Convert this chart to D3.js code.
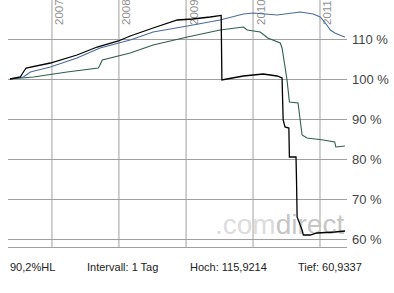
<!DOCTYPE html>
<html>
<head>
<meta charset="utf-8">
<script src="https://cdn.jsdelivr.net/npm/d3@7"></script>
<style>
  body { margin: 0; background: #fff; }
  svg { display: block; font-family: Arial, "Liberation Sans", sans-serif; }
</style>
</head>
<body>
<svg id="chart" width="394" height="293"></svg>
<script>
// series: [date, percent]
const blackSeries = [
  ["2006-05-20", 100], ["2006-07-15", 100.5], ["2006-08-01", 101.75], ["2006-08-16", 102.75],
  ["2006-12-26", 104], ["2007-05-20", 106], ["2007-09-07", 108], ["2008-01-01", 109.5],
  ["2008-03-05", 110.75], ["2008-07-08", 112.75], ["2008-11-17", 114.75], ["2009-02-08", 115],
  ["2009-05-15", 115.5], ["2009-07-14", 115.9], ["2009-07-18", 99.75], ["2009-08-14", 100],
  ["2009-11-12", 100.75], ["2010-02-28", 101.25], ["2010-05-15", 100.75], ["2010-06-11", 100.25],
  ["2010-06-14", 94.75], ["2010-06-17", 89.75], ["2010-06-27", 88], ["2010-07-18", 87.75],
  ["2010-07-21", 80.5], ["2010-08-26", 80.5], ["2010-08-29", 74], ["2010-09-01", 65.5],
  ["2010-09-28", 62.25], ["2010-10-05", 61], ["2010-11-12", 61], ["2010-12-18", 61.5],
  ["2011-03-26", 61.75], ["2011-05-20", 62]
];
const blueSeries = [
  ["2006-05-20", 100], ["2006-08-01", 100.5], ["2006-09-08", 101.75], ["2006-12-26", 103],
  ["2007-05-20", 105.25], ["2007-09-23", 107.75], ["2008-03-05", 109.75], ["2008-07-08", 111.75],
  ["2009-01-11", 113.25], ["2009-07-08", 114.75], ["2009-11-12", 116.25], ["2010-01-05", 116.5],
  ["2010-05-15", 116], ["2010-09-18", 116.75], ["2010-11-28", 116.25], ["2011-01-05", 115.5],
  ["2011-02-02", 114], ["2011-03-01", 112.25], ["2011-03-26", 111.5], ["2011-05-04", 110.75],
  ["2011-05-20", 110.5]
];
const greenSeries = [
  ["2006-05-20", 100], ["2006-09-25", 100.5], ["2007-03-27", 101.75], ["2007-09-13", 102.75],
  ["2007-09-20", 103.25], ["2007-10-05", 104.75], ["2008-03-05", 106.5], ["2008-07-08", 108.5],
  ["2009-01-11", 110.5], ["2009-07-08", 112.25], ["2009-11-12", 113], ["2009-12-03", 112.25],
  ["2010-02-12", 111.75], ["2010-03-25", 110.25], ["2010-06-01", 109], ["2010-06-11", 107.75],
  ["2010-07-08", 99.75], ["2010-07-21", 94.25], ["2010-09-06", 94], ["2010-09-28", 86],
  ["2010-10-25", 85.25], ["2011-01-22", 84.75], ["2011-03-25", 84.25], ["2011-03-31", 83],
  ["2011-05-20", 83.25]
];
const yTicks = [60, 70, 80, 90, 100, 110];
const yearTicks = ["2007", "2008", "2009", "2010", "2011"];
const footerLabels = ["90,2%HL", "Intervall: 1 Tag", "Hoch: 115,9214", "Tief: 60,9337"];

const parse = d3.timeParse("%Y-%m-%d");
const svg = d3.select("#chart");

const plot = { left: 8, right: 347, top: 0, bottom: 247 };

const x = d3.scaleTime()
  .domain([parse("2006-05-20"), parse("2011-05-20")])
  .range([10, 345]);
const y = d3.scaleLinear()
  .domain([58, 119.75])
  .range([plot.bottom, plot.top]);

// horizontal grid
svg.append("g")
  .attr("transform", `translate(${plot.left},0)`)
  .call(d3.axisRight(y).tickValues(yTicks).tickSize(plot.right - plot.left).tickFormat(""))
  .call(g => g.select(".domain").remove())
  .call(g => g.selectAll("line").attr("stroke", "#a0a0a0"));

// vertical grid at year starts
const yearDates = yearTicks.map(d => parse(d + "-01-01"));
svg.append("g")
  .attr("transform", `translate(0,${plot.bottom})`)
  .call(d3.axisTop(x).tickValues(yearDates).tickSize(plot.bottom - plot.top).tickFormat(""))
  .call(g => g.select(".domain").remove())
  .call(g => g.selectAll("line").attr("stroke", "#a0a0a0"));

// bottom border
svg.append("line")
  .attr("x1", plot.left).attr("x2", plot.right)
  .attr("y1", plot.bottom + 0.5).attr("y2", plot.bottom + 0.5)
  .attr("stroke", "#a0a0a0");

// rotated year labels (slightly cut at the top, like the original)
svg.append("g").selectAll("text")
  .data(yearDates)
  .join("text")
  .attr("transform", d => `translate(${x(d) + 12},25) rotate(-90)`)
  .attr("fill", "#909090")
  .style("font-size", "11.5px")
  .text((d, i) => yearTicks[i]);

// watermark
const wm = svg.append("text")
  .attr("x", 215).attr("y", 234)
  .style("font-size", "28px");
wm.append("tspan").attr("fill", "#dcdcdc").text(".com");
wm.append("tspan").attr("fill", "#c6c6c6").text("direct");

// lines
const line = d3.line()
  .x(d => x(parse(d[0])))
  .y(d => y(d[1]));

const series = [
  { data: greenSeries, color: "#2f5e4c", width: 1.1 },
  { data: blueSeries, color: "#4a6c9c", width: 1.1 },
  { data: blackSeries, color: "#000000", width: 1.3 }
];
series.forEach(s => {
  svg.append("path")
    .datum(s.data)
    .attr("fill", "none")
    .attr("stroke", s.color)
    .attr("stroke-width", s.width)
    .attr("d", line);
});

// right-hand percent labels
svg.append("g")
  .attr("transform", `translate(352,0)`)
  .call(d3.axisRight(y).tickValues(yTicks).tickSize(0).tickPadding(0).tickFormat(d => d + " %"))
  .call(g => g.select(".domain").remove())
  .call(g => g.selectAll("text")
    .attr("fill", "#444")
    .style("font-size", "13px")
    .style("font-family", "Arial, 'Liberation Sans', sans-serif"));

// footer
const footerX = [10, 87, 190, 298];
svg.append("g").selectAll("text")
  .data(footerLabels)
  .join("text")
  .attr("x", (d, i) => footerX[i])
  .attr("y", 271)
  .attr("fill", "#222")
  .style("font-size", "11px")
  .text(d => d);
</script>
</body>
</html>
